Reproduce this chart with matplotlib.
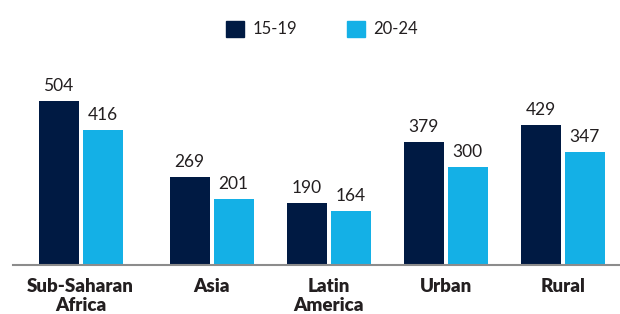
import numpy as np
import matplotlib
matplotlib.use('Agg')
import matplotlib.pyplot as plt
import matplotlib.patches as mpatches

# ── data ───────────────────────────────────────────────────────────────────────
categories = ['Sub-Saharan\nAfrica', 'Asia', 'Latin\nAmerica', 'Urban', 'Rural']
series     = ['15-19', '20-24']
vals_1519  = [504, 269, 190, 379, 429]
vals_2024  = [416, 201, 164, 300, 347]

# ── style ──────────────────────────────────────────────────────────────────────
DARK  = '#001a43'
LIGHT = '#14b0e6'
TEXT  = '#231f20'
plt.rcParams['font.family'] = ['Lato', 'DejaVu Sans']

W, H = 620, 314
fig = plt.figure(figsize=(W / 100, H / 100), dpi=100)
ax = fig.add_axes([13 / W, 49.5 / H, (620 - 13) / W, 214.5 / H])

pos = np.arange(len(categories), dtype=float)
pos[0] -= 0.12          # first group sits a little further left
bw, off = 0.342, 0.188

b1 = ax.bar(pos - off, vals_1519, bw, color=DARK)
b2 = ax.bar(pos + off, vals_2024, bw, color=LIGHT)
for bars in (b1, b2):
    ax.bar_label(bars, padding=5, fontsize=12.5, color=TEXT)

ax.set_xlim(-0.697, 4.49)
ax.set_ylim(0, 661)
ax.set_yticks([])
ax.set_xticks(pos)
ax.set_xticklabels(categories, fontsize=13.5, fontweight='heavy', color=TEXT,
                   linespacing=1.15)
ax.tick_params(axis='x', length=0, pad=10)
for s in ('top', 'right', 'left'):
    ax.spines[s].set_visible(False)
ax.spines['bottom'].set_color('#8c8c8c')
ax.spines['bottom'].set_linewidth(1.5)

handles = [mpatches.Patch(color=DARK, label=series[0]),
           mpatches.Patch(color=LIGHT, label=series[1])]
leg = fig.legend(handles=handles, ncol=2, loc='center', bbox_to_anchor=(322 / W, 1 - 29 / H),
                 frameon=False, fontsize=12, handlelength=1.1, handleheight=1.1,
                 handletextpad=0.5, columnspacing=3.0)
for t in leg.get_texts():
    t.set_color(TEXT)

fig.savefig('out.png', dpi=100)
